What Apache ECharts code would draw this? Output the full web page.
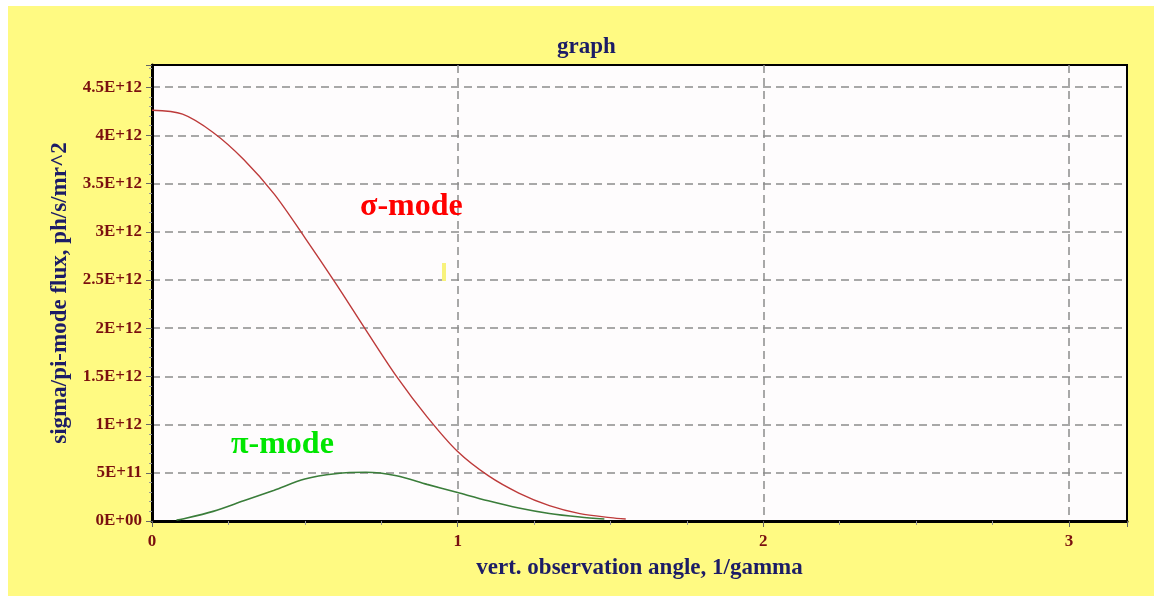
<!DOCTYPE html>
<html>
<head>
<meta charset="utf-8">
<script src="https://cdn.jsdelivr.net/npm/echarts@6/dist/echarts.min.js"></script>
<style>
html,body{margin:0;padding:0;background:#ffffff;width:1154px;height:596px;overflow:hidden;}
#chart{position:absolute;left:8px;top:6px;width:1146px;height:590px;background:#fffa82;}
</style>
</head>
<body>
<div id="chart"></div>
<script>
// vertical observation angle, 1/gamma
const sigmaAngle = [0, 0.1, 0.2, 0.3, 0.4, 0.5, 0.6, 0.7, 0.8, 0.9, 1.0, 1.1, 1.2, 1.3, 1.4, 1.5, 1.55];
// sigma-mode flux, ph/s/mr^2
const sigmaFlux = [4.26e12, 4.22e12, 4.03e12, 3.75e12, 3.39e12, 2.94e12, 2.47e12, 1.98e12, 1.50e12, 1.08e12, 0.72e12, 0.47e12, 0.29e12, 0.16e12, 0.077e12, 0.035e12, 0.02e12];
const piAngle = [0.08, 0.1, 0.2, 0.3, 0.4, 0.5, 0.6, 0.7, 0.8, 0.9, 1.0, 1.1, 1.2, 1.3, 1.4, 1.48];
// pi-mode flux, ph/s/mr^2
const piFlux = [0.01e12, 0.02e12, 0.10e12, 0.21e12, 0.32e12, 0.435e12, 0.49e12, 0.505e12, 0.47e12, 0.38e12, 0.295e12, 0.21e12, 0.135e12, 0.078e12, 0.041e12, 0.02e12];

const titleText = 'graph';
const xName = 'vert. observation angle, 1/gamma';
const yName = 'sigma/pi-mode flux, ph/s/mr^2';
const sigmaLabel = 'σ-mode';
const piLabel = 'π-mode';

function sciLabel(v) {
  if (v === 0) return '0E+00';
  const e = Math.floor(Math.log10(Math.abs(v)) + 1e-9);
  let m = v / Math.pow(10, e);
  m = Math.round(m * 100) / 100;
  return m + 'E+' + (e < 10 ? '0' + e : e);
}

const serif = '"Liberation Serif", "DejaVu Serif", serif';
const navy = '#1c1c66';
const darkRed = '#7a0f0f';

const chart = echarts.init(document.getElementById('chart'), null, {renderer: 'canvas'});
chart.setOption({
  animation: false,
  backgroundColor: '#fffa82',
  title: {
    text: titleText,
    left: 544, top: 25,
    textStyle: {fontFamily: serif, fontWeight: 'bold', fontSize: 23, color: navy}
  },
  grid: {
    left: 144, right: 27, top: 59, bottom: 75,
    show: true, backgroundColor: '#fefcfd', borderColor: '#000', borderWidth: 2
  },
  xAxis: {
    type: 'value', min: 0, max: 3.19, interval: 1,
    name: xName, nameLocation: 'middle', nameGap: 36,
    nameTextStyle: {fontFamily: serif, fontWeight: 'bold', fontSize: 23, color: navy},
    axisLine: {show: true, onZero: false, lineStyle: {color: '#000', width: 3}},
    axisTick: {show: true, length: 6, lineStyle: {color: '#666', width: 1}},
    minorTick: {show: true, splitNumber: 4, length: 4, lineStyle: {color: '#999'}},
    axisLabel: {showMaxLabel: false, margin: 12, fontFamily: serif, fontWeight: 'bold', fontSize: 17, color: darkRed,
      formatter: v => String(v)},
    splitLine: {show: true, showMaxLine: false, showMinLine: false, lineStyle: {color: '#8c8c8c', width: 1.5, type: [8, 5]}}
  },
  yAxis: {
    type: 'value', min: 0, max: 4.73e12, interval: 0.5e12,
    name: yName, nameLocation: 'middle', nameGap: 79, nameRotate: 90,
    nameTextStyle: {fontFamily: serif, fontWeight: 'bold', fontSize: 23, color: navy},
    axisLine: {show: true, onZero: false, lineStyle: {color: '#000', width: 3}},
    axisTick: {show: true, length: 6, lineStyle: {color: '#666', width: 1}},
    minorTick: {show: true, splitNumber: 5, length: 3, lineStyle: {color: '#999'}},
    axisLabel: {showMaxLabel: false, margin: 10, fontFamily: serif, fontWeight: 'bold', fontSize: 17, color: darkRed,
      formatter: sciLabel},
    splitLine: {show: true, showMaxLine: false, showMinLine: false, lineStyle: {color: '#8c8c8c', width: 1.5, type: [8, 5]}}
  },
  series: [
    {
      name: 'sigma', type: 'line', showSymbol: false, smooth: 0.3,
      data: sigmaAngle.map((a, i) => [a, sigmaFlux[i]]),
      lineStyle: {color: '#bd3a3a', width: 1.4}, z: 3
    },
    {
      name: 'pi', type: 'line', showSymbol: false, smooth: 0.3,
      data: piAngle.map((a, i) => [a, piFlux[i]]),
      lineStyle: {color: '#3a7d3a', width: 1.6}, z: 4
    }
  ],
  graphic: [
    {type: 'text', left: 352, top: 185, z: 10,
      style: {text: sigmaLabel, font: 'bold 32px ' + serif, fill: '#ff0000'}},
    {type: 'text', left: 223, top: 423, z: 10,
      style: {text: piLabel, font: 'bold 32px ' + serif, fill: '#00e600'}},
    {type: 'rect', left: 434, top: 257, z: 10,
      shape: {width: 4, height: 18}, style: {fill: '#f8f27c'}}
  ]
});
</script>
</body>
</html>
